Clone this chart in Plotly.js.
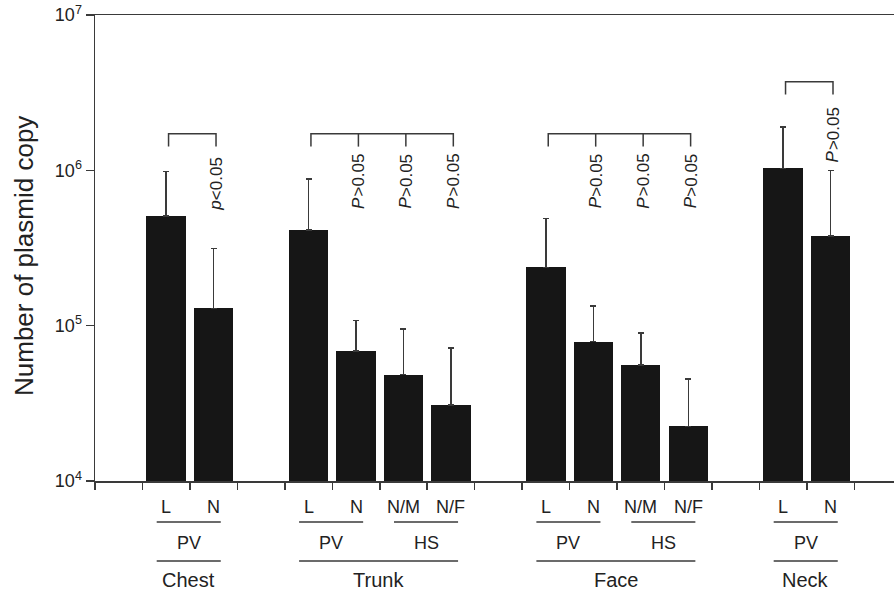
<!DOCTYPE html>
<html><head><meta charset="utf-8">
<script src="https://cdn.plot.ly/plotly-3.0.1.min.js"></script>
<style>html,body{margin:0;padding:0;background:#fff}#chart{width:894px;height:591px}</style>
</head><body><div id="chart"></div>
<script>
// ---------------- data ----------------
const barRegion = ['Chest','Chest','Trunk','Trunk','Trunk','Trunk','Face','Face','Face','Face','Neck','Neck'];
const barType   = ['PV','PV','PV','PV','HS','HS','PV','PV','HS','HS','PV','PV'];
const barLabels = ['L','N','L','N','N/M','N/F','L','N','N/M','N/F','L','N'];
const meanCopies  = [5.1e5, 1.29e5, 4.12e5, 6.88e4, 4.84e4, 3.09e4, 2.37e5, 7.9e4, 5.58e4, 2.25e4, 1.03e6, 3.77e5];
const upperCopies = [9.85e5, 3.14e5, 8.78e5, 1.08e5, 9.5e4, 7.16e4, 4.9e5, 1.34e5, 8.98e4, 4.52e4, 1.9e6, 1.0e6];
// p-value of each bar vs. the first bar of its region: [italic letter, rest]
const pLetter = [null, 'p', null, 'P', 'P', 'P', null, 'P', 'P', 'P', null, 'P'];
const pRest   = [null, '<0.05', null, '>0.05', '>0.05', '>0.05', null, '>0.05', '>0.05', '>0.05', null, '>0.05'];
const yTickVals = [1e4, 1e5, 1e6, 1e7];
const yTickText = ['10<sup>4</sup>', '10<sup>5</sup>', '10<sup>6</sup>', '10<sup>7</sup>'];
const yTitle = 'Number of plasmid copy';

// ---------------- layout helpers ----------------
const FONTNAME = 'Liberation Sans';
const FONT = 'Liberation Sans, Arial, Helvetica, sans-serif';
const INK = '#222';
const LINE = '#3a3a3a';
const W = 894, H = 591, ML = 95, MR = 0, MT = 15, MB = 110;
const plotH = H - MT - MB;
const py = px => (H - MB - px) / plotH;   // pixel row -> paper y
const slotPx = 47.46;
const xMax = 0.5 + (W - ML - MR) / slotPx;
const esc = s => s.replace(/&/g, '&amp;').replace(/</g, '&lt;').replace(/>/g, '&gt;');
const ctx = document.createElement('canvas').getContext('2d');
const textW = (s, size, style) => { ctx.font = (style || '') + ' ' + size + 'px "' + FONTNAME + '"'; return ctx.measureText(s).width; };

// slot positions: one empty slot before each region
const slots = [];
{ let s = 0, prev = null;
  barRegion.forEach(r => { s += (r !== prev) ? 2 : 1; slots.push(s); prev = r; }); }

const bracketTop = {Chest: 1.72e6, Trunk: 1.72e6, Face: 1.72e6, Neck: 3.72e6};
const textGap = {Chest: -9, Trunk: -5, Face: -5, Neck: -11};
const legRatio = 1.21;
const legOff = 0.05;
const PSIZE = 17;

const traces = [{
  type: 'bar', x: slots, y: meanCopies, width: 0.83,
  marker: {color: '#161616', line: {width: 0}},
  error_y: {type: 'data', symmetric: false,
            array: upperCopies.map((u, i) => u - meanCopies[i]),
            arrayminus: meanCopies.map(() => 0),
            color: LINE, thickness: 1.5, width: 3},
  hoverinfo: 'skip', showlegend: false
}];

const annotations = [];
const shapes = [];

// brackets + p-values per region
const regionsOrder = [...new Set(barRegion)];
regionsOrder.forEach(reg => {
  const idx = barRegion.map((r, i) => r === reg ? i : -1).filter(i => i >= 0);
  const top = bracketTop[reg], bot = top / legRatio;
  const xs = [], ys = [];
  const x0 = slots[idx[0]] + legOff, xn = slots[idx[idx.length - 1]] + legOff;
  xs.push(x0, x0, xn, xn, null); ys.push(bot, top, top, bot, null);
  idx.slice(1, -1).forEach(i => { xs.push(slots[i] + legOff, slots[i] + legOff, null); ys.push(top, bot, null); });
  traces.push({type: 'scatter', mode: 'lines', x: xs, y: ys,
    line: {color: LINE, width: 1.5}, hoverinfo: 'skip', showlegend: false});
  idx.forEach(i => {
    if (!pRest[i]) return;
    const wRest = textW(pRest[i], PSIZE, '');
    // rest of the label (upper part when reading bottom-to-top)
    annotations.push({xref: 'x', yref: 'y', x: slots[i] + legOff, y: Math.log10(bot),
      text: esc(pRest[i]), textangle: -90, showarrow: false,
      xanchor: 'center', yanchor: 'top', yshift: textGap[reg],
      font: {family: FONT, size: PSIZE, color: INK}});
    // italic letter below it
    annotations.push({xref: 'x', yref: 'y', x: slots[i] + legOff, y: Math.log10(bot),
      text: pLetter[i], textangle: -90, showarrow: false,
      xanchor: 'center', yanchor: 'top', yshift: textGap[reg] - wRest,
      font: {family: FONT, size: PSIZE, color: INK, style: 'italic'}});
  });
});

// category labels below axis
const row1 = 507, row2line = 522, row2 = 543, row3line = 561, row3 = 580;
barLabels.forEach((lab, i) => {
  annotations.push({xref: 'x', yref: 'paper', x: slots[i], y: py(row1), text: lab,
    showarrow: false, xanchor: 'center', yanchor: 'middle',
    font: {family: FONT, size: 18, color: INK}});
});
function addGroup(text, i0, i1, lineRow, textRow, size) {
  const xa = slots[i0] - 0.2, xb = slots[i1] + 0.15;
  shapes.push({type: 'line', xref: 'x', yref: 'paper', x0: xa, x1: xb, y0: py(lineRow), y1: py(lineRow),
    line: {color: LINE, width: 1.5}});
  annotations.push({xref: 'x', yref: 'paper', x: (xa + xb) / 2, y: py(textRow), text: text,
    showarrow: false, xanchor: 'center', yanchor: 'middle',
    font: {family: FONT, size: size, color: INK}});
}
// type groups
{ let start = 0;
  for (let i = 1; i <= barType.length; i++) {
    if (i === barType.length || barType[i] !== barType[start] || barRegion[i] !== barRegion[start]) {
      addGroup(barType[start], start, i - 1, row2line, row2, 18); start = i;
    }
  } }
// region groups
{ let start = 0;
  for (let i = 1; i <= barRegion.length; i++) {
    if (i === barRegion.length || barRegion[i] !== barRegion[start]) {
      addGroup(barRegion[start], start, i - 1, row3line, row3, 20); start = i;
    }
  } }

// y title
annotations.push({xref: 'paper', yref: 'paper', x: 0, xshift: 24 - ML, y: py(256),
  text: yTitle, textangle: -90, showarrow: false, xanchor: 'center', yanchor: 'middle',
  font: {family: FONT, size: 26, color: INK}});

const tickVals = [];
for (let t = 0.5; t < xMax; t += 1) tickVals.push(t);

const layout = {
  width: W, height: H,
  margin: {l: ML, r: MR, t: MT, b: MB, pad: 0},
  paper_bgcolor: '#fff', plot_bgcolor: '#fff',
  font: {family: FONT, color: INK},
  showlegend: false,
  xaxis: {type: 'linear', range: [0.5, xMax], showgrid: false, zeroline: false,
    showline: true, linecolor: LINE, linewidth: 1.5, mirror: true,
    tickmode: 'array', tickvals: tickVals, showticklabels: false,
    ticks: 'outside', ticklen: 7, tickwidth: 1.5, tickcolor: LINE},
  yaxis: {type: 'log', range: [4, 7], showgrid: false, zeroline: false,
    showline: true, linecolor: LINE, linewidth: 1.5,
    tickmode: 'array', tickvals: yTickVals, ticktext: yTickText,
    ticks: 'outside', ticklen: 8, tickwidth: 1.5, tickcolor: LINE,
    tickfont: {family: FONT, size: 18, color: INK}},
  annotations: annotations,
  shapes: shapes,
  bargap: 0
};

Plotly.newPlot('chart', traces, layout, {staticPlot: true, displayModeBar: false});
</script>
</body></html>
